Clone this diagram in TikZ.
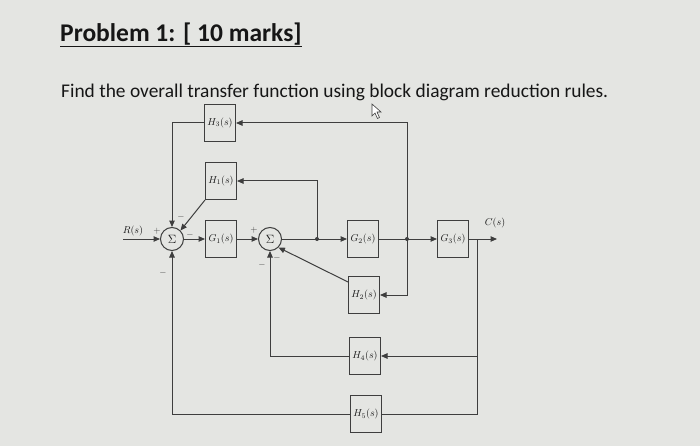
\documentclass[tikz,border=0pt]{standalone}
\usepackage{fontspec}
\setmainfont{Carlito}
\usetikzlibrary{arrows.meta}
\definecolor{bgc}{RGB}{228,229,226}
\definecolor{linec}{RGB}{62,62,62}
\definecolor{txtc}{RGB}{22,22,22}
\begin{document}
\begin{tikzpicture}[x=1pt,y=-1pt,
  blk/.style={draw=linec, line width=1pt, minimum width=31pt, minimum height=37pt, inner sep=0pt, text=txtc, font=\fontsize{10}{11}\selectfont},
  sumnode/.style={circle, draw=linec, line width=1pt, minimum size=23pt, inner sep=0pt, text=txtc, font=\fontsize{12.5}{13}\selectfont},
  wire/.style={draw=linec, line width=1pt},
  arr/.style={wire, -{Triangle[length=6.5pt,width=5.5pt]}},
  sgn/.style={text=linec, font=\fontsize{9}{10}\selectfont, inner sep=0pt},
  lbl/.style={text=txtc, font=\fontsize{10}{11}\selectfont, inner sep=0pt}]
\fill[bgc] (0,0) rectangle (700,446);
\useasboundingbox (0,0) rectangle (700,446);

% heading
\node[anchor=base west, inner sep=0pt, text=txtc, font=\fontsize{25.5}{30}\selectfont\bfseries] (title) at (60,42) {Problem 1: [ 10 marks]};
\draw[txtc, line width=1.5pt] ([yshift=-4.5pt]title.base west) -- ([yshift=-4.5pt]title.base east);
\node[anchor=base west, inner sep=0pt, text=txtc, font=\fontsize{19.4}{23}\selectfont] (task) at (61,98) {Find the overall transfer function using block diagram reduction rules.};

% mouse pointer
\draw[linec, line width=0.6pt, fill=white] (372,104) -- (372,116) -- (375,113) -- (377.5,118.5) -- (379.5,117.5) -- (377,112) -- (381,112) -- cycle;

% forward path
\coordinate (rin) at (123,239);
\node[sumnode] (s1) at (172,239) {$\Sigma$};
\node[blk] (g1) at (221,239) {$G_1(s)$};
\node[sumnode] (s2) at (270,239) {$\Sigma$};
\coordinate (j1) at (317,239);
\node[blk] (g2) at (363,239) {$G_2(s)$};
\coordinate (j2) at (407,239);
\node[blk] (g3) at (453,239) {$G_3(s)$};
\coordinate (b) at (477,239);
\coordinate (out) at (497,239);

% feedback blocks
\node[blk] (h3) at (220,123) {$H_3(s)$};
\node[blk] (h1) at (221,181) {$H_1(s)$};
\node[blk] (h2) at (364,295) {$H_2(s)$};
\node[blk] (h4) at (365,356) {$H_4(s)$};
\node[blk] (h5) at (366,414) {$H_5(s)$};

% forward connectors
\draw[arr] (rin) -- (s1);
\draw[arr] (s1) -- (g1);
\draw[arr] (g1) -- (s2);
\draw[wire] (s2) -- (j1);
\draw[arr] (j1) -- (g2);
\draw[wire] (g2) -- (j2);
\draw[arr] (j2) -- (g3);
\draw[wire] (g3) -- (b);
\draw[arr] (b) -- (out);
\fill[linec] (j1) circle (2pt);
\fill[linec] (j2) circle (2pt);

% feedback connectors
\draw[arr] (j2) |- (h3);
\draw[arr] (h3) -| (s1);
\draw[arr] (j1) |- (h1);
\draw[arr] (h1.south west) -- (s1.north east);
\draw[arr] (j2) |- (h2);
\draw[arr] ([yshift=-6pt]h2.north west) -- (s2.south east);
\draw[arr] (b) |- (h4);
\draw[arr] (h4) -| (s2);
\draw[wire] (b) |- (h5);
\draw[arr] (h5) -| (s1);

% labels
\node[lbl] (rl) at (133,231) {$R(s)$};
\node[lbl] (cl) at (495,223) {$C(s)$};
\node[sgn] (p1) at (157,231) {$+$};
\node[sgn] (m1) at (181,217) {$-$};
\node[sgn] (m2) at (190,235) {$-$};
\node[sgn] (m3) at (163,273) {$-$};
\node[sgn] (p2) at (254,230) {$+$};
\node[sgn] (m4) at (262,265) {$-$};
\node[sgn] (m5) at (277,258) {$-$};
\end{tikzpicture}
\end{document}
